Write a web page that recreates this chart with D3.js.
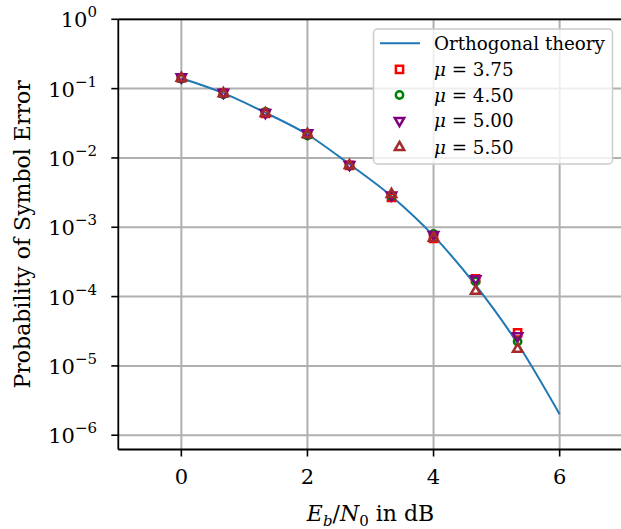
<!DOCTYPE html>
<html>
<head>
<meta charset="utf-8">
<script src="https://cdn.jsdelivr.net/npm/d3@7"></script>
<style>
  body { margin: 0; background: #fff; }
  svg text { font-family: "DejaVu Serif", serif; fill: #000; }
</style>
</head>
<body>
<script>
// Eb/N0 points (dB) where the simulations were run
var ebn0 = [0, 0.667, 1.333, 2, 2.667, 3.333, 4, 4.667, 5.333];
// theory curve
var theoryX = [0, 0.667, 1.333, 2, 2.667, 3.333, 4, 4.667, 5.333, 6];
var theoryPe = [0.141, 0.086, 0.045, 0.0218, 0.0081, 0.0028, 7.5e-4, 1.46e-4, 2.1e-5, 2.0e-6];
// simulated symbol error rates
var pe375 = [0.143, 0.086, 0.044, 0.022, 0.0078, 0.0027, 6.9e-4, 1.8e-4, 3.0e-5];
var pe450 = [0.139, 0.083, 0.046, 0.021, 0.0077, 0.0028, 8.0e-4, 1.65e-4, 2.25e-5];
var pe500 = [0.147, 0.088, 0.045, 0.023, 0.0080, 0.0029, 7.8e-4, 1.8e-4, 2.7e-5];
var pe550 = [0.142, 0.085, 0.044, 0.022, 0.0078, 0.0030, 7.0e-4, 1.2e-4, 1.75e-5];
var muLabels = ["3.75", "4.50", "5.00", "5.50"];
var xTicks = [0, 2, 4, 6];
var yExps = [0, -1, -2, -3, -4, -5, -6];

var W = 621, H = 529;
// plot box (window.top is reserved, so keep these prefixed)
var pLeft = 118.3, pRight = 622.7, pTop = 19.3, pBottom = 449.5;

var svg = d3.select("body").append("svg")
    .attr("width", W).attr("height", H);

var x = d3.scaleLinear().domain([-1, 7]).range([pLeft, pRight]);
var y = d3.scaleLog().domain([Math.pow(10, -6.206), 1]).range([pBottom, pTop]);

// grid
var grid = svg.append("g");
xTicks.forEach(function(t) {
    grid.append("line")
        .attr("x1", x(t)).attr("x2", x(t))
        .attr("y1", pTop).attr("y2", pBottom)
        .attr("stroke", "#b0b0b0").attr("stroke-width", 2);
});
yExps.forEach(function(e) {
    grid.append("line")
        .attr("x1", pLeft).attr("x2", pRight)
        .attr("y1", y(Math.pow(10, e))).attr("y2", y(Math.pow(10, e)))
        .attr("stroke", "#b0b0b0").attr("stroke-width", 2);
});

// theory line
var line = d3.line()
    .x(function(d) { return x(d[0]); })
    .y(function(d) { return y(d[1]); })
    .curve(d3.curveMonotoneX);
svg.append("path")
    .datum(d3.zip(theoryX, theoryPe))
    .attr("d", line)
    .attr("fill", "none")
    .attr("stroke", "#1f77b4")
    .attr("stroke-width", 2);

// markers
var series = [
    {vals: pe375, color: "#ff0000", sym: d3.symbolSquare, size: 52, rot: 0},
    {vals: pe450, color: "#008000", sym: d3.symbolCircle, size: 42, rot: 0},
    {vals: pe500, color: "#800080", sym: d3.symbolTriangle, size: 38, rot: 180},
    {vals: pe550, color: "#a52a2a", sym: d3.symbolTriangle, size: 38, rot: 0}
];

function marker(g, s, cx, cy) {
    g.append("path")
        .attr("d", d3.symbol().type(s.sym).size(s.size)())
        .attr("transform", "translate(" + cx + "," + cy + ") rotate(" + s.rot + ")")
        .attr("fill", "none")
        .attr("stroke", s.color)
        .attr("stroke-width", 2.5);
}

var mk = svg.append("g");
series.forEach(function(s) {
    s.vals.forEach(function(v, i) {
        marker(mk, s, x(ebn0[i]), y(v));
    });
});

// spines: left, bottom, top
svg.append("line").attr("x1", pLeft).attr("x2", pLeft).attr("y1", pTop).attr("y2", pBottom)
    .attr("stroke", "#000").attr("stroke-width", 1.8);
svg.append("line").attr("x1", pLeft).attr("x2", pRight).attr("y1", pBottom).attr("y2", pBottom)
    .attr("stroke", "#000").attr("stroke-width", 1.8);
svg.append("line").attr("x1", pLeft).attr("x2", pRight).attr("y1", pTop).attr("y2", pTop)
    .attr("stroke", "#000").attr("stroke-width", 1.8);

var xa = svg.append("g");
xTicks.forEach(function(t) {
    xa.append("line").attr("x1", x(t)).attr("x2", x(t))
        .attr("y1", pBottom).attr("y2", pBottom + 7)
        .attr("stroke", "#000").attr("stroke-width", 1.6);
    xa.append("text").attr("x", x(t)).attr("y", 484)
        .attr("text-anchor", "middle").style("font-size", "21px").text(t);
});

var ya = svg.append("g");
yExps.forEach(function(e) {
    var yy = y(Math.pow(10, e));
    ya.append("line").attr("x1", pLeft - 7).attr("x2", pLeft)
        .attr("y1", yy).attr("y2", yy)
        .attr("stroke", "#000").attr("stroke-width", 1.6);
    var t = ya.append("text").attr("x", 97).attr("y", yy + 8)
        .attr("text-anchor", "end").style("font-size", "21px");
    t.append("tspan").text("10");
    t.append("tspan").attr("dy", -10).style("font-size", "15px")
        .text(e === 0 ? "0" : "\u2212" + (-e));
});

// axis labels
svg.append("text")
    .attr("transform", "translate(30," + ((pTop + pBottom) / 2) + ") rotate(-90)")
    .attr("text-anchor", "middle").style("font-size", "22px")
    .text("Probability of Symbol Error");

var xl = svg.append("text").attr("x", (pLeft + pRight) / 2).attr("y", 521)
    .attr("text-anchor", "middle").style("font-size", "22px");
xl.append("tspan").style("font-style", "italic").text("E");
xl.append("tspan").attr("dy", 5).style("font-size", "15px").style("font-style", "italic").text("b");
xl.append("tspan").attr("dy", -5).text("/");
xl.append("tspan").style("font-style", "italic").text("N");
xl.append("tspan").attr("dy", 5).style("font-size", "15px").text("0");
xl.append("tspan").attr("dy", -5).text(" in dB");

// legend
var lg = svg.append("g");
lg.append("rect").attr("x", 373.5).attr("y", 29).attr("width", 239).attr("height", 135)
    .attr("rx", 4).attr("fill", "#fff").attr("fill-opacity", 0.8)
    .attr("stroke", "#cccccc").attr("stroke-width", 1.5);
var rowY = [43.3, 69.3, 95, 120.7, 147.3];
lg.append("line").attr("x1", 380).attr("x2", 420).attr("y1", rowY[0]).attr("y2", rowY[0])
    .attr("stroke", "#1f77b4").attr("stroke-width", 2);
lg.append("text").attr("x", 434).attr("y", rowY[0] + 6.5).style("font-size", "18.3px")
    .text("Orthogonal theory");
series.forEach(function(s, i) {
    marker(lg, s, 399.5, rowY[i + 1]);
    var t = lg.append("text").attr("x", 434).attr("y", rowY[i + 1] + 6.5).style("font-size", "18.3px");
    t.append("tspan").style("font-style", "italic").text("\u03bc");
    t.append("tspan").text(" = " + muLabels[i]);
});
</script>
</body>
</html>
